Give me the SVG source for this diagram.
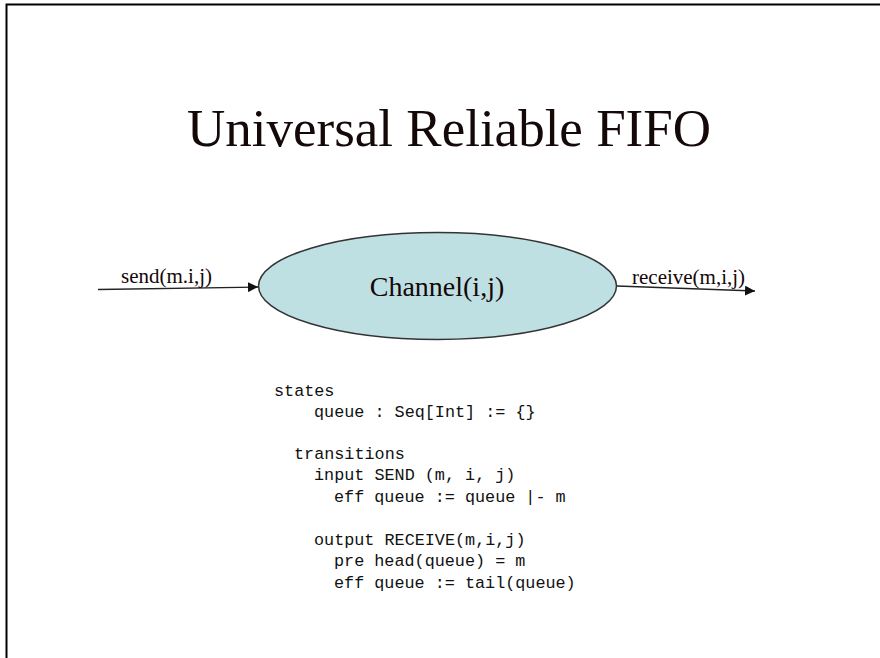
<svg xmlns="http://www.w3.org/2000/svg" width="880" height="658" viewBox="0 0 880 658">
  <style>
    .serif { font-family: "Liberation Serif", "Times New Roman", serif; fill: #140808; }
    .code { font-family: "Liberation Mono", "Courier New", monospace; font-size: 16.8px; fill: #111; white-space: pre; }
    .wire { stroke: #222; stroke-width: 1.3; fill: none; }
  </style>
  <defs>
    <marker id="arrow" viewBox="0 0 10 10" refX="10" refY="5" markerWidth="10" markerHeight="10" markerUnits="userSpaceOnUse" orient="auto">
      <path d="M0,0 L10,5 L0,10 z" fill="#111"/>
    </marker>
  </defs>

  <rect width="880" height="658" fill="#ffffff"/>
  <!-- page frame (top and left edges) -->
  <path d="M6.5,658 V4.5 H880" fill="none" stroke="#000" stroke-width="2"/>

  <text class="serif" x="449" y="146" font-size="53" text-anchor="middle">Universal Reliable FIFO</text>

  <g id="connectors">
    <line class="wire" x1="98" y1="289.5" x2="258" y2="287" marker-end="url(#arrow)"/>
    <line class="wire" x1="617" y1="286" x2="755" y2="291" marker-end="url(#arrow)"/>
    <text class="serif" x="121" y="283" font-size="21">send(m.i,j)</text>
    <text class="serif" x="632" y="284" font-size="21">receive(m,i,j)</text>
  </g>

  <g id="channel">
    <ellipse cx="437.5" cy="286" rx="179" ry="53.5" fill="#bfe0e3" stroke="#333" stroke-width="1.5"/>
    <text class="serif" x="437" y="296" font-size="28" text-anchor="middle">Channel(i,j)</text>
  </g>

  <g id="spec">
    <text class="code" x="274" y="396">states</text>
    <text class="code" x="314" y="417">queue : Seq[Int] := {}</text>
    <text class="code" x="294" y="459">transitions</text>
    <text class="code" x="314" y="480">input SEND (m, i, j)</text>
    <text class="code" x="334" y="502">eff queue := queue |- m</text>
    <text class="code" x="314" y="545">output RECEIVE(m,i,j)</text>
    <text class="code" x="334" y="566">pre head(queue) = m</text>
    <text class="code" x="334" y="588">eff queue := tail(queue)</text>
  </g>
</svg>
